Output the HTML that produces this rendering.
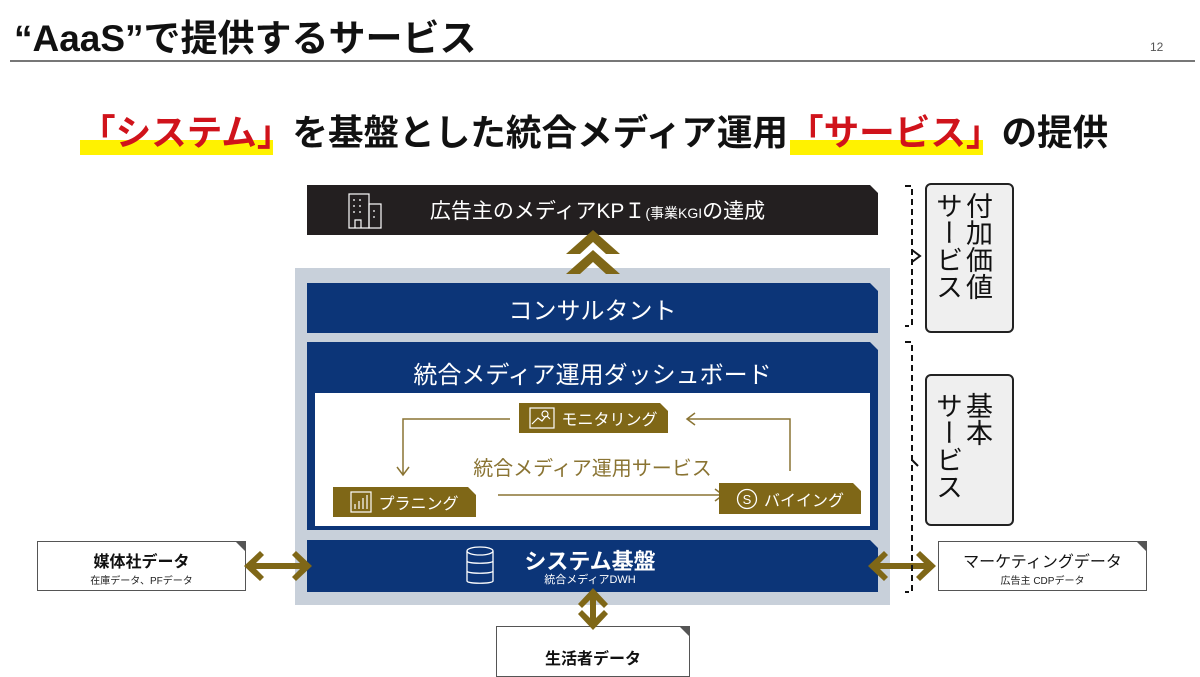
<!DOCTYPE html>
<html><head><meta charset="utf-8"><style>
body{margin:0;width:1200px;height:677px;background:#fff;position:relative;overflow:hidden;font-family:"Liberation Sans","Noto Sans CJK JP",sans-serif;}
.a{position:absolute;}
.c{display:flex;align-items:center;justify-content:center;}
.cut{clip-path:polygon(0 0,calc(100% - 8px) 0,100% 8px,100% 100%,0 100%);}
.gold{background:#7f6717;color:#fff;font-size:16px;}
.wbox{background:#555;}
.wbox>div{position:absolute;left:1px;top:1px;right:1px;bottom:1px;background:#fff;clip-path:polygon(0 0,calc(100% - 9px) 0,100% 9px,100% 100%,0 100%);}
</style></head><body>
<div class="a" style="left:14px;top:8px;font-size:37px;font-weight:bold;color:#111;">“AaaS”で提供するサービス</div>
<div class="a" style="left:1150px;top:40px;font-size:12px;color:#555;">12</div>
<div class="a" style="left:10px;top:60px;width:1185px;height:2px;background:#777;"></div>

<div class="a" style="left:80px;top:140px;width:193px;height:15px;background:#fff200;"></div>
<div class="a" style="left:790px;top:140px;width:193px;height:15px;background:#fff200;"></div>
<div class="a" style="left:80px;top:105px;font-size:35.6px;font-weight:bold;color:#111;white-space:nowrap;"><span style="color:#d0131b">「システム」</span>を基盤とした統合メディア運用<span style="color:#d0131b">「サービス」</span>の提供</div>

<div class="a" style="left:295px;top:268px;width:595px;height:337px;background:#c8d0da;"></div>

<div class="a c cut" style="left:307px;top:185px;width:571px;height:50px;background:#231f20;color:#fff;font-size:21px;">
<svg class="a" style="left:40px;top:7px" width="38" height="38" viewBox="0 0 38 38" fill="none" stroke="#fff" stroke-width="1.2"><rect x="2" y="2" width="20" height="34"/><rect x="22" y="12" width="12" height="24"/><path d="M6 8h2M12 8h2M6 14h2M12 14h2M6 20h2M12 20h2M8 36v-8h6v8M27 18v2M27 24v2"/></svg>
<span style="margin-left:10px">広告主のメディアKPＩ<span style="font-size:14px">(事業KGI</span>の達成</span></div>

<svg class="a" style="left:560px;top:228px" width="66" height="48" viewBox="0 0 66 48"><path d="M33 2L60 26H46L33 14L20 26H6Z" fill="#7f6717"/><path d="M33 22L60 46H46L33 34L20 46H6Z" fill="#7f6717"/></svg>

<div class="a c cut" style="left:307px;top:283px;width:571px;height:50px;background:#0c3578;color:#fff;font-size:24px;">コンサルタント</div>

<div class="a cut" style="left:307px;top:342px;width:571px;height:188px;background:#0c3578;"></div>
<div class="a" style="left:307px;top:355px;width:571px;text-align:center;color:#fff;font-size:24px;">統合メディア運用ダッシュボード</div>
<div class="a" style="left:315px;top:393px;width:555px;height:133px;background:#fff;"></div>

<svg class="a" style="left:315px;top:393px" width="555" height="133" viewBox="0 0 555 133" fill="none" stroke="#8a7433" stroke-width="1.5">
<path d="M195 26H88V82M82 74L88 82L94 74"/>
<path d="M475 78V26H372M380 20L372 26L380 32"/>
<path d="M183 102H408M400 96L408 102L400 108"/>
</svg>

<div class="a c gold cut" style="left:519px;top:403px;width:149px;height:30px;"><svg width="26" height="22" viewBox="0 0 26 22" fill="none" stroke="#fff" stroke-width="1.2" style="margin-right:6px"><rect x="1" y="1" width="24" height="20"/><path d="M3 17l6-6 4 3 4-5"/><circle cx="16" cy="7" r="3"/><path d="M18 9l3 3"/></svg>モニタリング</div>
<div class="a c gold cut" style="left:333px;top:487px;width:143px;height:30px;"><svg width="22" height="22" viewBox="0 0 22 22" fill="none" stroke="#fff" stroke-width="1.2" style="margin-right:6px"><rect x="1" y="1" width="20" height="20"/><path d="M5 18v-5M9 18v-8M13 18v-11M17 18v-14"/></svg>プラニング</div>
<div class="a c gold cut" style="left:719px;top:483px;width:142px;height:31px;"><svg width="22" height="22" viewBox="0 0 22 22" style="margin-right:6px"><circle cx="11" cy="11" r="9.5" fill="none" stroke="#fff" stroke-width="1.3"/><text x="11" y="16" text-anchor="middle" fill="#fff" font-size="13" font-family="Liberation Sans">S</text></svg>バイイング</div>
<div class="a" style="left:315px;top:452px;width:555px;text-align:center;color:#8a7433;font-size:20px;">統合メディア運用サービス</div>

<div class="a cut" style="left:307px;top:540px;width:571px;height:52px;background:#0c3578;"></div>
<svg class="a" style="left:465px;top:545px" width="30" height="42" viewBox="0 0 30 42" fill="none" stroke="#fff" stroke-width="1.3"><ellipse cx="15" cy="6" rx="13" ry="4"/><path d="M2 6v30c0 3 26 3 26 0V6M2 16c0 3 26 3 26 0M2 26c0 3 26 3 26 0"/></svg>
<div class="a" style="left:500px;top:544px;width:180px;text-align:center;color:#fff;font-size:22px;font-weight:bold;">システム基盤</div>
<div class="a" style="left:500px;top:571px;width:180px;text-align:center;color:#fff;font-size:11px;">統合メディアDWH</div>

<div class="a wbox" style="left:37px;top:541px;width:209px;height:50px;"><div></div></div>
<div class="a" style="left:37px;top:548px;width:209px;text-align:center;font-size:16px;font-weight:bold;color:#111;">媒体社データ</div>
<div class="a" style="left:37px;top:572px;width:209px;text-align:center;font-size:10px;color:#222;">在庫データ、PFデータ</div>

<div class="a wbox" style="left:938px;top:541px;width:209px;height:50px;"><div></div></div>
<div class="a" style="left:938px;top:548px;width:209px;text-align:center;font-size:16px;color:#111;">マーケティングデータ</div>
<div class="a" style="left:938px;top:572px;width:209px;text-align:center;font-size:10px;color:#222;">広告主 CDPデータ</div>

<div class="a wbox" style="left:496px;top:626px;width:194px;height:51px;"><div></div></div>
<div class="a" style="left:496px;top:645px;width:194px;text-align:center;font-size:16px;font-weight:bold;color:#111;">生活者データ</div>

<svg class="a" style="left:0;top:0" width="1200" height="677" viewBox="0 0 1200 677">
<g fill="#7f6717">
<path d="M244 566L260 551L264 555L256 563H300L292 555L296 551L312 566L296 581L292 577L300 569H256L264 577L260 581Z"/>
<path d="M868 566L884 551L888 555L880 563H924L916 555L920 551L936 566L920 581L916 577L924 569H880L888 577L884 581Z"/>
<path d="M593 588L608 604L604 608L596 600V618L604 610L608 614L593 630L578 614L582 610L590 618V600L582 608L578 604Z"/>
</g>
<g fill="none" stroke="#111" stroke-width="2" stroke-dasharray="6,4">
<path d="M905 186H912V326H905"/>
<path d="M905 342H912V592H905"/>
</g>
<path d="M912 250L920 256L912 262" fill="none" stroke="#111" stroke-width="2"/>
<path d="M912 460L918 466" fill="none" stroke="#111" stroke-width="2"/>
</svg>

<div class="a" style="left:925px;top:183px;width:85px;height:146px;border:2px solid #222;border-radius:6px;background:#efefef;"></div>
<div class="a" style="left:932px;top:192px;font-size:27px;line-height:30px;writing-mode:vertical-rl;color:#111;height:135px;">付加価値<br>サービス</div>
<div class="a" style="left:925px;top:374px;width:85px;height:148px;border:2px solid #222;border-radius:6px;background:#efefef;"></div>
<div class="a" style="left:932px;top:392px;font-size:27px;line-height:30px;writing-mode:vertical-rl;color:#111;height:125px;">基本<br>サービス</div>
</body></html>
